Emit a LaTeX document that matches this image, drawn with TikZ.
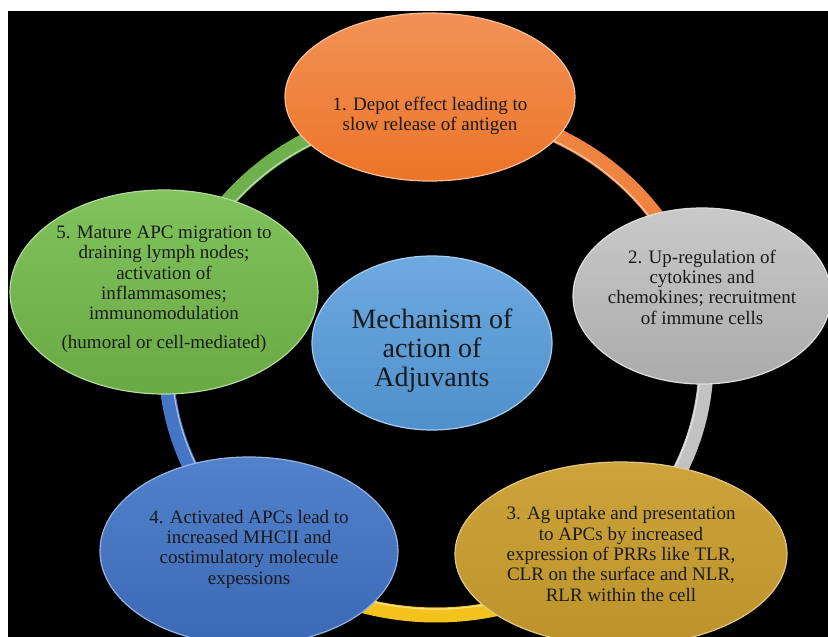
\documentclass[tikz,border=0pt]{standalone}
\usepackage{fontspec}
\setmainfont{Liberation Serif}
\newfontfamily\tnr{Liberation Serif}
\usetikzlibrary{shapes.geometric}
\definecolor{txtc}{HTML}{1A1A1A}
\definecolor{orA}{HTML}{F29257}\definecolor{orB}{HTML}{EC7427}
\definecolor{grA}{HTML}{C9C9C9}\definecolor{grB}{HTML}{ABABAB}
\definecolor{goA}{HTML}{CCA43A}\definecolor{goB}{HTML}{BD922B}
\definecolor{blA}{HTML}{5282CC}\definecolor{blB}{HTML}{3C68B4}
\definecolor{gnA}{HTML}{80C25C}\definecolor{gnB}{HTML}{6AAA44}
\definecolor{ceA}{HTML}{6FAADF}\definecolor{ceB}{HTML}{4E8FCC}
\definecolor{rgn}{HTML}{6DB04C}\definecolor{ror}{HTML}{EF8440}
\definecolor{rgr}{HTML}{C2C2C2}\definecolor{rgo}{HTML}{F3C21C}
\definecolor{rbl}{HTML}{4674C6}
\tikzset{
  bub/.style={ellipse, inner sep=0pt, line width=1.2pt},
  txt/.style={align=center, text=txtc, font=\tnr\fontsize{19}{20.3}\selectfont, inner sep=0pt},
  ringseg/.style={line width=15pt},
  ringhl/.style={line width=1.2pt, draw=white, opacity=0.55}
}
\begin{document}
\begin{tikzpicture}[x=1pt,y=-1pt]
\useasboundingbox (0,0) rectangle (828,637);
\fill[white] (0,0) rectangle (828,637);
\fill[black] (8,11) rectangle (828,637);
\begin{scope}
\clip (8,11) rectangle (828,637);
\coordinate (rc) at (436,362);
% ring segments
\draw[ringseg, rgn] ([shift={(-165:270 and 253)}]rc) arc[start angle=-165, end angle=-90, x radius=270, y radius=253];
\draw[ringseg, ror] ([shift={(-90:270 and 253)}]rc) arc[start angle=-90, end angle=-15, x radius=270, y radius=253];
\draw[ringseg, rgr] ([shift={(-15:270 and 253)}]rc) arc[start angle=-15, end angle=50, x radius=270, y radius=253];
\draw[ringseg, rgo] ([shift={(50:270 and 253)}]rc) arc[start angle=50, end angle=135, x radius=270, y radius=253];
\draw[ringseg, rbl] ([shift={(135:270 and 253)}]rc) arc[start angle=135, end angle=195, x radius=270, y radius=253];
\draw[ringhl] ([shift={(-165:264 and 247)}]rc) arc[start angle=-165, end angle=195, x radius=264, y radius=247];
% bubbles
\node[bub, minimum width=290pt, minimum height=168pt, top color=orA, bottom color=orB, draw=orA!60!white] (o1) at (430,97) {};
\node[bub, minimum width=258pt, minimum height=176pt, top color=grA, bottom color=grB, draw=grA!60!white] (o2) at (702,296) {};
\node[bub, minimum width=332pt, minimum height=184pt, top color=goA, bottom color=goB, draw=goA!60!white] (o3) at (621,554) {};
\node[bub, minimum width=298pt, minimum height=188pt, top color=blA, bottom color=blB, draw=blA!60!white] (o4) at (249,551) {};
\node[bub, minimum width=308pt, minimum height=204pt, top color=gnA, bottom color=gnB, draw=gnA!60!white] (o5) at (164,292) {};
\node[bub, minimum width=240pt, minimum height=174pt, top color=ceA, bottom color=ceB, draw=ceA!60!white] (oc) at (432,343) {};
\end{scope}
% texts
\node[txt] (t1) at (o1.center) [yshift=-19pt] {1. Depot effect leading to\\slow release of antigen};
\node[txt] (t2) at (o2.center) [yshift=9pt] {2. Up-regulation of\\cytokines and\\chemokines; recruitment\\of immune cells};
\node[txt] (t3) at (o3.center) [yshift=0pt] {3. Ag uptake and presentation\\to APCs by increased\\expression of PRRs like TLR,\\CLR on the surface and NLR,\\RLR within the cell};
\node[txt] (t4) at (o4.center) [yshift=2pt] {4. Activated APCs lead to\\increased MHCII and\\costimulatory molecule\\expessions};
\node[txt] (t5) at (o5.center) [yshift=3pt] {5. Mature APC migration to\\draining lymph nodes;\\activation of\\inflammasomes;\\immunomodulation\\[8pt](humoral or cell-mediated)};
\node[txt, font=\tnr\fontsize{28}{29}\selectfont] (tc) at (oc.center) [yshift=-8pt] {Mechanism of\\action of\\Adjuvants};
\end{tikzpicture}
\end{document}
